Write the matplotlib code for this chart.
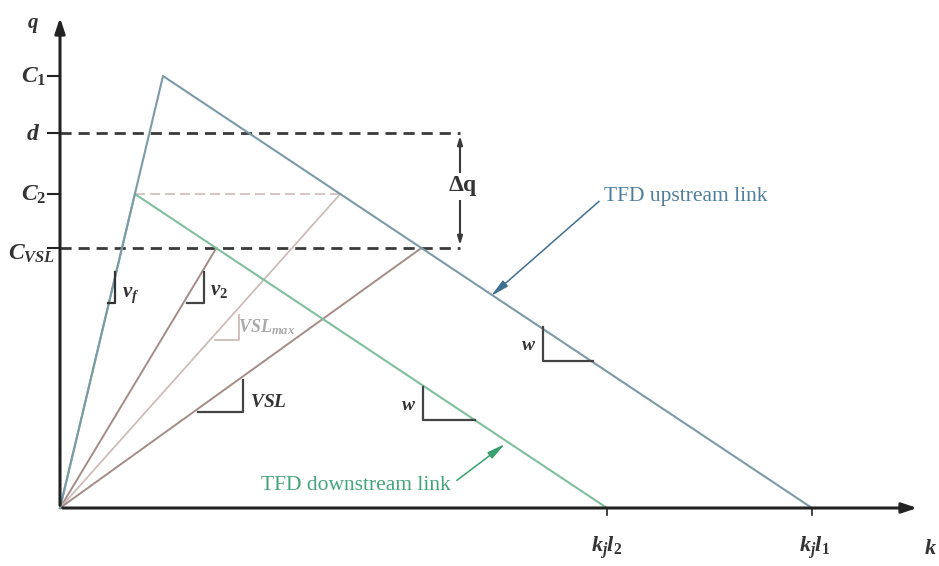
import numpy as np
import matplotlib
matplotlib.use('Agg')
from matplotlib import pyplot as plt

plt.rcParams['mathtext.fontset'] = 'custom'
plt.rcParams['mathtext.it'] = 'Liberation Serif:bold:italic'
plt.rcParams['mathtext.rm'] = 'Liberation Serif:bold'
plt.rcParams['mathtext.bf'] = 'Liberation Serif:bold'

# fundamental diagram values (k = density, q = flow), arbitrary units
kjl1 = 752      # jam density * length, upstream
kjl2 = 547      # jam density * length, downstream
C1 = 432
C2 = 314
d = 375
CVSL = 260
kC1 = 103       # critical density upstream
kmax = 860      # end of k axis
qmax = 493      # end of q axis
dq_k = 400      # where delta q bracket sits

# derived slopes
vf = C1 / kC1
w = C1 / (kjl1 - kC1)
kC2 = C2 / vf

# upstream / downstream triangles
up_k = [0, kC1, kjl1]
up_q = [0, C1, 0]
down_k = [0, kC2, kjl2]
down_q = [0, C2, 0]

# points where the speed-limited lines hit the triangles
k_v2 = kjl2 - CVSL / w
k_vslmax = kjl1 - C2 / w
k_vsl = kjl1 - CVSL / w

c_up = '#7c9aa8'
c_down = '#7fbf9f'
c_brown = '#a48c88'
c_light = '#cdbcb8'
c_dash = '#3a3a3a'

fig = plt.figure(figsize=(9.39, 5.66), dpi=100)
ax = fig.add_axes([0, 0, 1, 1])
ax.set_xlim(-60, 879)
ax.set_ylim(-58, 508)
ax.axis('off')

# axes with arrows
ax.annotate('', xy=(kmax, 0), xytext=(0, 0),
            arrowprops=dict(arrowstyle='-|>,head_length=0.9,head_width=0.3', color='#222222', lw=2.2))
ax.annotate('', xy=(0, qmax), xytext=(0, 0),
            arrowprops=dict(arrowstyle='-|>,head_length=0.9,head_width=0.3', color='#222222', lw=2.2))

# q-axis ticks
for qv in [C1, d, C2, CVSL]:
    ax.plot([-12, 0], [qv, qv], color='#222222', lw=1.5)
for kv in [kjl2, kjl1]:
    ax.plot([kv, kv], [0, -7], color='#222222', lw=1.2)

# dashed d and CVSL lines, delta q bracket
ax.plot([0, dq_k], [d, d], color=c_dash, lw=2, ls=(0, (4, 2.5)))
ax.plot([0, dq_k], [CVSL, CVSL], color=c_dash, lw=2, ls=(0, (4, 2.5)))
ax.annotate('', xy=(dq_k, d), xytext=(dq_k, (d + CVSL) / 2),
            arrowprops=dict(arrowstyle='-|>,head_length=0.5,head_width=0.15', color=c_dash, lw=1.5))
ax.annotate('', xy=(dq_k, CVSL), xytext=(dq_k, (d + CVSL) / 2),
            arrowprops=dict(arrowstyle='-|>,head_length=0.5,head_width=0.15', color=c_dash, lw=1.5))
ax.text(dq_k + 3, (d + CVSL) / 2 + 4, r'$\mathrm{\Delta q}$', fontsize=17, ha='center', va='center',
        color='#333333', bbox=dict(fc='white', ec='none', pad=1))

# thin dashed C2 line
ax.plot([kC2, k_vslmax], [C2, C2], color=c_light, lw=1.2, ls=(0, (6, 3)))

# speed limited lines
ax.plot([0, k_v2], [0, CVSL], color=c_brown, lw=1.4)
ax.plot([0, k_vslmax], [0, C2], color=c_light, lw=1.3)
ax.plot([0, k_vsl], [0, CVSL], color=c_brown, lw=1.4)

# triangles (downstream first so the shared free-flow branch shows upstream colour)
ax.plot(down_k, down_q, color=c_down, lw=1.5)
ax.plot(up_k, up_q, color=c_up, lw=1.5)

# slope triangles: (x of vertical, top q, bottom q, left x)
def slope_mark(xv, qt, qb, xl, col, lw=1.6):
    ax.plot([xv, xv, xl], [qt, qb, qb], color=col, lw=lw)

slope_mark(55, 236, 205, 48, '#333333')
slope_mark(144, 236, 205, 127, '#444444')
slope_mark(179, 193, 168, 155, c_light, lw=1.3)
slope_mark(183, 128, 96, 138, '#444444')

def w_mark(xv, qt, qb, xr):
    ax.plot([xv, xv, xr], [qt, qb, qb], color='#444444', lw=1.6)

w_mark(363, 121, 88, 415)
w_mark(483, 181, 147, 533)

ax.text(62, 211, r'$v_f$', fontsize=15, color='#333333')
ax.text(150, 213, r'$v_2$', fontsize=15, color='#333333')
ax.text(178, 176, r'$VSL_{max}$', fontsize=13, color='#aaaaaa')
ax.text(190, 101, r'$VSL$', fontsize=14, color='#333333')
ax.text(356, 98, r'$w$', fontsize=14, color='#333333', ha='right')
ax.text(476, 158, r'$w$', fontsize=14, color='#333333', ha='right')

# axis tick labels
ax.text(-14, C1, r'$C_1$', fontsize=17, ha='right', va='center', color='#333333')
ax.text(-20, d, r'$d$', fontsize=17, ha='right', va='center', color='#333333')
ax.text(-14, C2, r'$C_2$', fontsize=17, ha='right', va='center', color='#333333')
ax.text(-5, CVSL - 5, r'$C_{VSL}$', fontsize=17, ha='right', va='center', color='#333333')
ax.text(-27, 483, r'$q$', fontsize=15, ha='center', va='center', color='#333333')
ax.text(kjl2, -40, r'$k_j l_2$', fontsize=16, ha='center', va='center', color='#333333')
ax.text(kjl1 + 3, -40, r'$k_j l_1$', fontsize=16, ha='center', va='center', color='#333333')
ax.text(870, -40, r'$k$', fontsize=16, ha='center', va='center', color='#333333')

# link labels with leaders
ax.annotate('TFD upstream link', xy=(431, 212), xytext=(544, 311),
            fontsize=15.5, family='Liberation Serif', color='#4f7f9c', va='center', ha='left',
            arrowprops=dict(arrowstyle='-|>,head_length=0.7,head_width=0.15', color='#3f6f90', lw=1.1,
                            shrinkA=2, shrinkB=0, relpos=(0, 0.5)))
ax.annotate('TFD downstream link', xy=(445, 64), xytext=(201, 23),
            fontsize=15.5, family='Liberation Serif', color='#44a57a', va='center', ha='left',
            arrowprops=dict(arrowstyle='-|>,head_length=0.7,head_width=0.15', color='#3aa070', lw=1.1,
                            shrinkA=3, shrinkB=0, relpos=(1, 0.5)))

plt.savefig('out.png', dpi=100)
